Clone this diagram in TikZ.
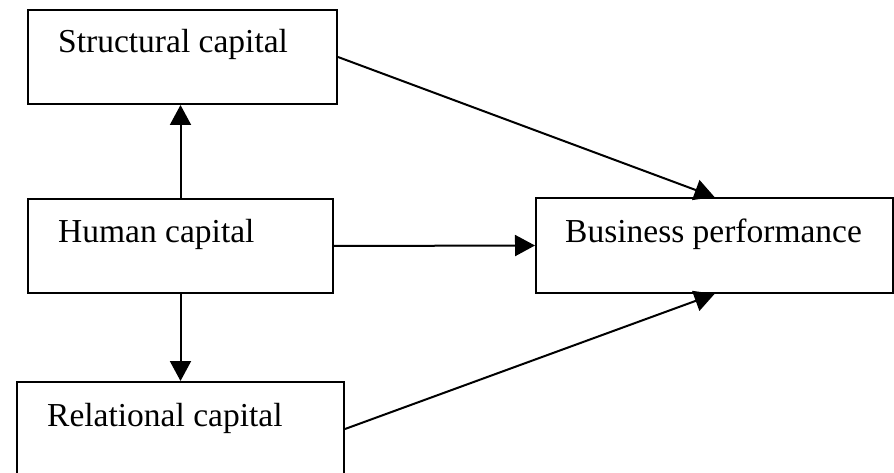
\documentclass[tikz,border=0pt]{standalone}
\usepackage{fontspec}
\setmainfont{Liberation Serif}
\usetikzlibrary{arrows.meta}
\begin{document}
\begin{tikzpicture}[x=1pt,y=-1pt,
  box/.style={draw,line width=2pt,inner sep=0pt,rectangle},
  lbl/.style={anchor=base west,inner sep=0pt,font=\fontsize{33.5}{40}\selectfont},
  arr/.style={line width=2pt,-{Triangle[length=20pt,width=21pt]}},
  conn/.style={line width=2pt}]
\useasboundingbox (0,0) rectangle (894,473);
\clip (0,0) rectangle (894,473);
\node[box,minimum width=309pt,minimum height=94pt] (S) at (182.5,57) {};
\node[box,minimum width=305pt,minimum height=94pt] (H) at (180.5,246) {};
\node[box,minimum width=327pt,minimum height=94pt] (R) at (180.5,429) {};
\node[box,minimum width=357pt,minimum height=95pt] (B) at (714.5,245.5) {};
\node[lbl] (St) at (58,53) {Structural capital};
\node[lbl] (Ht) at (58,243) {Human capital};
\node[lbl] (Rt) at (47,426) {Relational capital};
\node[lbl] (Bt) at (565,242) {Business performance};
\draw[arr] (H.north) -- (H.north |- S.south);
\draw[arr] (H.south) -- (H.south |- R.north);
\draw[arr] (H.east) -- (B.west);
\draw[arr] (S.east) -- (B.north);
\draw[arr] (R.east) -- (B.south);
\end{tikzpicture}
\end{document}
